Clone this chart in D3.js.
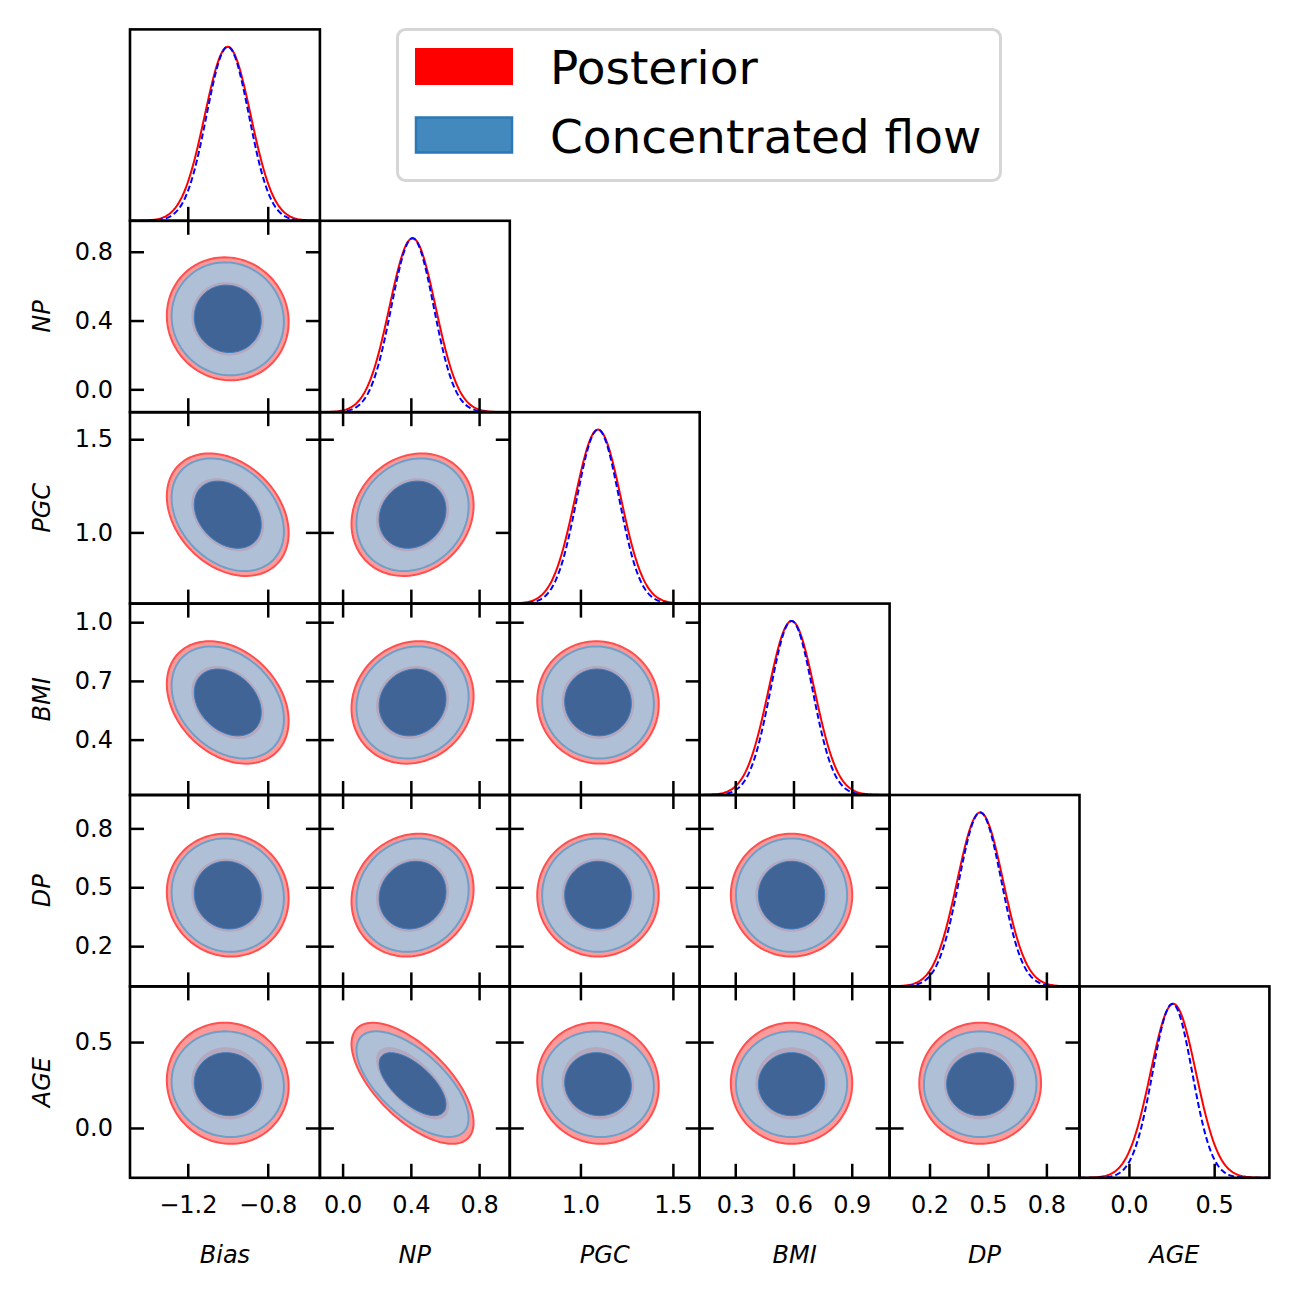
<!doctype html>
<html>
<head>
    <meta charset="utf-8">
    <title>corner plot</title>
    <style>
        body { margin: 0; background: #fff; }
        text { font-family: "DejaVu Sans", sans-serif; }
    </style>
    <script src="https://d3js.org/d3.v7.min.js"></script>
</head>
<body>
<svg width="1298" height="1298"></svg>
<script>

    // parameter names and axis limits
    var params = ["Bias", "NP", "PGC", "BMI", "DP", "AGE"];
    var domains = [[-1.489, -0.539], [-0.133, 0.98], [0.618, 1.645], [0.117, 1.095], [-0.005, 0.97], [-0.29, 0.824]];
    var xTicks = [[-1.2, -0.8], [0.0, 0.4, 0.8], [1.0, 1.5], [0.3, 0.6, 0.9], [0.2, 0.5, 0.8], [0.0, 0.5]];
    var yTicks = [[], [0.0, 0.4, 0.8], [1.0, 1.5], [0.4, 0.7, 1.0], [0.2, 0.5, 0.8], [0.0, 0.5]];

    // posterior (red) and concentrated flow (blue) marginals
    var postMean = [-1.0, 0.41, 1.095, 0.59, 0.46, 0.26];
    var postSd = [0.115, 0.135, 0.124, 0.118, 0.118, 0.133];
    var flowMean = [-1.0, 0.41, 1.095, 0.59, 0.46, 0.255];
    var flowSd = [0.106, 0.124, 0.114, 0.108, 0.109, 0.116];

    // correlations, lower triangle: corr[row][col]
    var corr = [
        [],
        [-0.05],
        [-0.30, 0.15],
        [-0.30, 0.10, -0.03],
        [-0.05, 0.10, 0.00, 0.00],
        [-0.05, -0.65, -0.05, 0.00, 0.00]
    ];

    // contour radii (in sd units) for the 68% and 95% regions
    var levels = [1.58, 2.65];

    var svg = d3.select("svg"),
        x0 = 130, y0 = 29.4,
        cw = 189.9, ch = 191.4,
        n = params.length,
        tick = 14,
        fmt = function (d) { return d3.format(".1f")(d).replace("-", "\u2212"); };

    function ellipse(mx, my, sx, sy, r, R) {
        var pts = [];
        for (var k = 0; k < 120; k++) {
            var t = 2 * Math.PI * k / 120;
            var c = Math.cos(t), s = Math.sin(t);
            pts.push([mx + sx * R * c, my + sy * R * (r * c + Math.sqrt(1 - r * r) * s)]);
        }
        return pts;
    }

    function curve(m, sd, dom) {
        var pts = [];
        for (var k = 0; k <= 200; k++) {
            var v = dom[0] + (dom[1] - dom[0]) * k / 200;
            pts.push([v, Math.exp(-0.5 * Math.pow((v - m) / sd, 2))]);
        }
        return pts;
    }

    function styleAxis(sel) {
        sel.select(".domain").remove();
        sel.selectAll("line").attr("stroke", "#000").attr("stroke-width", 2.5);
    }

    var defs = svg.append("defs");
    defs.append("clipPath").attr("id", "clip")
        .append("rect").attr("width", cw).attr("height", ch);

    for (var i = 0; i < n; i++) {
        for (var j = 0; j <= i; j++) {
            var g = svg.append("g")
                .attr("transform", "translate(" + (x0 + j * cw) + "," + (y0 + i * ch) + ")");
            var x = d3.scaleLinear().domain(domains[j]).range([0, cw]);
            var body = g.append("g").attr("clip-path", "url(#clip)");

            if (i == j) {
                var y1 = d3.scaleLinear().domain([0, 1.1]).range([ch, 0]);
                var line = d3.line().x(function (d) { return x(d[0]); }).y(function (d) { return y1(d[1]); });
                body.append("path")
                    .attr("d", line(curve(postMean[j], postSd[j], domains[j])))
                    .attr("fill", "none").attr("stroke", "red").attr("stroke-width", 2);
                body.append("path")
                    .attr("d", line(curve(flowMean[j], flowSd[j], domains[j])))
                    .attr("fill", "none").attr("stroke", "blue").attr("stroke-width", 2)
                    .attr("stroke-dasharray", "6,3");

                g.append("g").attr("transform", "translate(0," + ch + ")")
                    .call(d3.axisBottom(x).tickValues(xTicks[j]).tickSize(-tick).tickFormat(""))
                    .call(styleAxis);
            } else {
                var y = d3.scaleLinear().domain(domains[i]).range([ch, 0]);
                var r = corr[i][j];
                var cl = d3.line().x(function (d) { return x(d[0]); }).y(function (d) { return y(d[1]); })
                    .curve(d3.curveLinearClosed);

                // posterior 95% region
                body.append("path")
                    .attr("d", cl(ellipse(postMean[j], postMean[i], postSd[j], postSd[i], r, levels[1])))
                    .attr("fill", "#ff9a9a").attr("stroke", "#ff5050").attr("stroke-width", 2);
                // flow 95% region
                body.append("path")
                    .attr("d", cl(ellipse(flowMean[j], flowMean[i], flowSd[j], flowSd[i], r, levels[1])))
                    .attr("fill", "#afbfd6").attr("stroke", "#6f9fc8").attr("stroke-width", 2);
                // posterior 68% region, seen through the flow fill
                body.append("path")
                    .attr("d", cl(ellipse(postMean[j], postMean[i], postSd[j], postSd[i], r, levels[0])))
                    .attr("fill", "#b4a8be");
                // flow 68% region
                body.append("path")
                    .attr("d", cl(ellipse(flowMean[j], flowMean[i], flowSd[j], flowSd[i], r, levels[0])))
                    .attr("fill", "#416497").attr("stroke", "#3a7cbf").attr("stroke-width", 1);

                g.append("g").attr("transform", "translate(0," + ch + ")")
                    .call(d3.axisBottom(x).tickValues(xTicks[j]).tickSize(-tick).tickFormat(""))
                    .call(styleAxis);
                g.append("g")
                    .call(d3.axisTop(x).tickValues(xTicks[j]).tickSize(-tick).tickFormat(""))
                    .call(styleAxis);
                g.append("g")
                    .call(d3.axisLeft(y).tickValues(yTicks[i]).tickSize(-tick).tickFormat(""))
                    .call(styleAxis);
                g.append("g").attr("transform", "translate(" + cw + ",0)")
                    .call(d3.axisRight(y).tickValues(yTicks[i]).tickSize(-tick).tickFormat(""))
                    .call(styleAxis);

                if (j == 0) {
                    g.append("g")
                        .call(d3.axisLeft(y).tickValues(yTicks[i]).tickSize(0).tickPadding(17).tickFormat(fmt))
                        .call(function (a) { a.select(".domain").remove(); })
                        .selectAll("text").attr("font-size", 24).attr("font-family", "DejaVu Sans").attr("fill", "#000");
                    g.append("text")
                        .attr("transform", "translate(" + (50 - x0) + "," + (ch / 2) + ") rotate(-90)")
                        .attr("text-anchor", "middle")
                        .attr("font-size", 24).attr("font-style", "italic")
                        .text(params[i]);
                }
            }

            if (i == n - 1) {
                g.append("g").attr("transform", "translate(0," + ch + ")")
                    .call(d3.axisBottom(x).tickValues(xTicks[j]).tickSize(0).tickPadding(18.5).tickFormat(fmt))
                    .call(function (a) { a.select(".domain").remove(); })
                    .selectAll("text").attr("font-size", 24).attr("font-family", "DejaVu Sans").attr("fill", "#000");
                g.append("text")
                    .attr("x", cw / 2).attr("y", ch + 85)
                    .attr("text-anchor", "middle")
                    .attr("font-size", 24).attr("font-style", "italic")
                    .text(params[j]);
            }

            g.append("rect")
                .attr("width", cw).attr("height", ch)
                .attr("fill", "none").attr("stroke", "#000").attr("stroke-width", 2.6);
        }
    }

    // legend
    var legend = svg.append("g");
    legend.append("rect")
        .attr("x", 397.5).attr("y", 29.5).attr("width", 603).attr("height", 151).attr("rx", 8)
        .attr("fill", "#fff").attr("fill-opacity", 0.8)
        .attr("stroke", "#d6d6d6").attr("stroke-width", 3);
    legend.append("rect")
        .attr("x", 415).attr("y", 48).attr("width", 98).attr("height", 37)
        .attr("fill", "red");
    legend.append("rect")
        .attr("x", 416).attr("y", 117.5).attr("width", 96).attr("height", 35)
        .attr("fill", "#4389be").attr("stroke", "#2a78b5").attr("stroke-width", 2.5);
    legend.append("text").attr("x", 550).attr("y", 84)
        .attr("font-size", 47).text("Posterior");
    legend.append("text").attr("x", 550).attr("y", 152.5)
        .attr("font-size", 47).text("Concentrated flow");

</script>
</body>
</html>
